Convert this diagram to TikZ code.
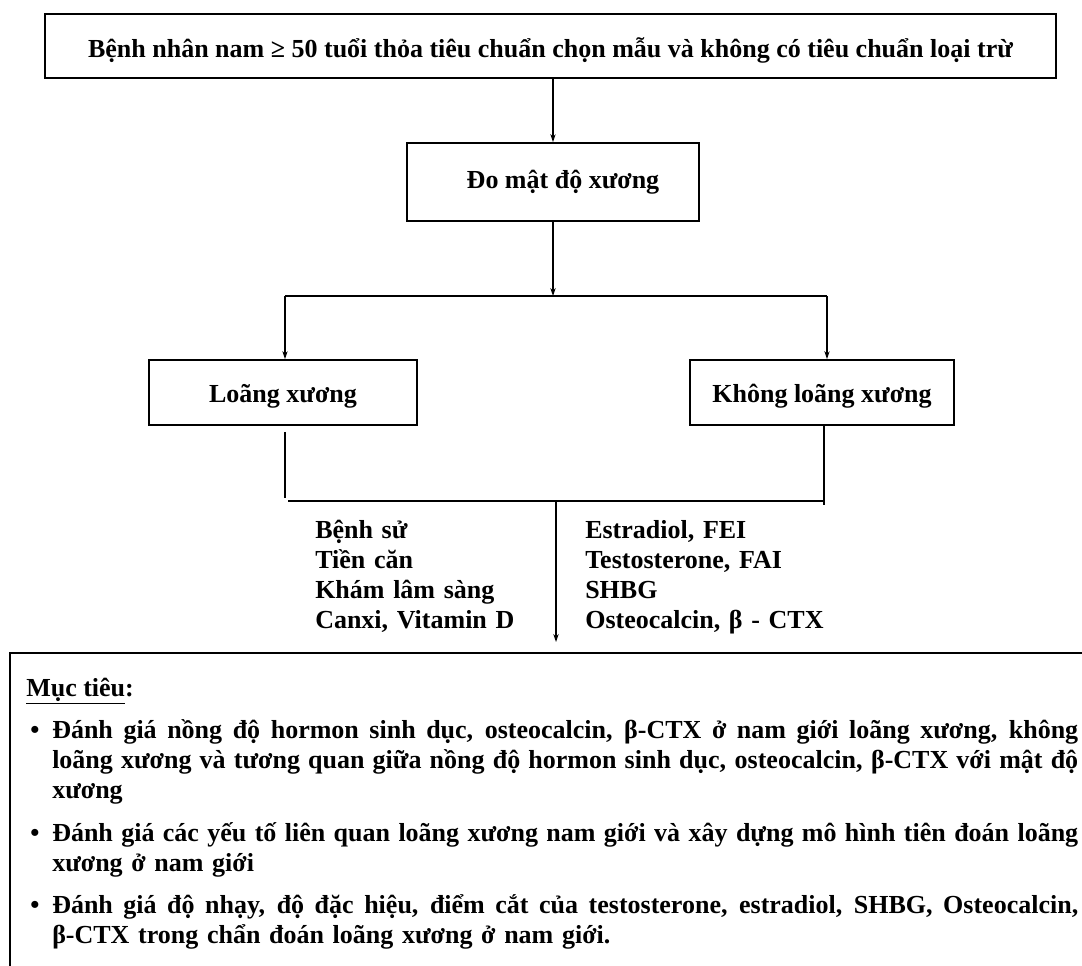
\documentclass[tikz,border=0pt]{standalone}
\usepackage{fontspec}
\setmainfont{Liberation Serif}
\usetikzlibrary{arrows.meta}
\newcommand{\jline}[1]{\makebox[769.5pt][s]{\spaceskip=0pt\xspaceskip=0pt #1}}
\newcommand{\lowered}[1]{\raisebox{-3pt}[\height][\depth]{#1}}
\begin{document}
\begin{tikzpicture}[x=0.75pt,y=-0.75pt,
  every node/.style={font=\fontsize{19.5}{22.5}\selectfont\bfseries},
  box/.style={draw, line width=1.3pt, inner sep=0pt},
  link/.style={line width=0.9pt},
  arr/.style={link, -{Stealth[length=6pt,width=4pt]}},
  txt/.style={inner sep=0pt, anchor=base west}]
\useasboundingbox (0,0) rectangle (1082,965);

\node[box, minimum width=758.25pt, minimum height=48pt] (top) at (550.5,46)
  {\lowered{Bệnh nhân nam ≥ 50 tuổi thỏa tiêu chuẩn chọn mẫu và không có tiêu chuẩn loại trừ}};
\node[box, minimum width=219pt, minimum height=58.5pt] (measure) at (553,182)
  {\hspace*{15pt}Đo mật độ xương};
\node[box, minimum width=201pt, minimum height=48.75pt] (loang) at (283,392.5)
  {\lowered{Loãng xương}};
\node[box, minimum width=198pt, minimum height=48.75pt] (khong) at (822,392.5)
  {\lowered{Không loãng xương}};

\draw[arr] (top.south -| measure.north) -- (measure.north);
\coordinate (split) at (553,296);
\draw[arr] (measure.south) -- (split);
\coordinate (sL) at (285,296);
\coordinate (sR) at (827,296);
\draw[link] (sL) -- (sR);
\draw[arr] (sL) -- (sL |- loang.north);
\draw[arr] (sR) -- (sR |- khong.north);

\coordinate (jL) at (285,498);
\coordinate (jL2) at (288,501);
\coordinate (jR) at (824,501);
\coordinate (jR2) at (824,505);
\coordinate (jC) at (556,501);
\coordinate (tip) at (556,642);
\draw[link] (loang.south -| jL) ++(0,6) -- (jL);
\draw[link] (khong.south -| jR) -- (jR2);
\draw[link] (jL2) -- (jR);
\draw[arr] (jC) -- (tip);

\node[txt, text width=220pt, align=left] (hist) at (315,538)
  {Bệnh sử\\Tiền căn\\Khám lâm sàng\\Canxi, Vitamin D};
\node[txt, text width=300pt, align=left] (labs) at (585,538)
  {Estradiol, FEI\\Testosterone, FAI\\SHBG\\Osteocalcin, β - CTX};

\draw[line width=1.3pt] (10,1020) -- (10,653) -- (1120,653);

\node[txt] (muc) at (26,696) {\underline{Mục tiêu}:};

\node[txt] (b1) at (30,738) {•};
\node[txt, text width=769.5pt, align=left] (t1) at (52,738)
  {\jline{Đánh giá nồng độ hormon sinh dục, osteocalcin, β-CTX ở nam giới loãng xương, không}\\
   \jline{loãng xương và tương quan giữa nồng độ hormon sinh dục, osteocalcin, β-CTX với mật độ}\\
   xương};
\node[txt] (b2) at (30,841) {•};
\node[txt, text width=769.5pt, align=left] (t2) at (52,841)
  {\jline{Đánh giá các yếu tố liên quan loãng xương nam giới và xây dựng mô hình tiên đoán loãng}\\
   xương ở nam giới};
\node[txt] (b3) at (30,913) {•};
\node[txt, text width=769.5pt, align=left] (t3) at (52,913)
  {\jline{Đánh giá độ nhạy, độ đặc hiệu, điểm cắt của testosterone, estradiol, SHBG, Osteocalcin,}\\
   β-CTX trong chẩn đoán loãng xương ở nam giới.};
\end{tikzpicture}
\end{document}
